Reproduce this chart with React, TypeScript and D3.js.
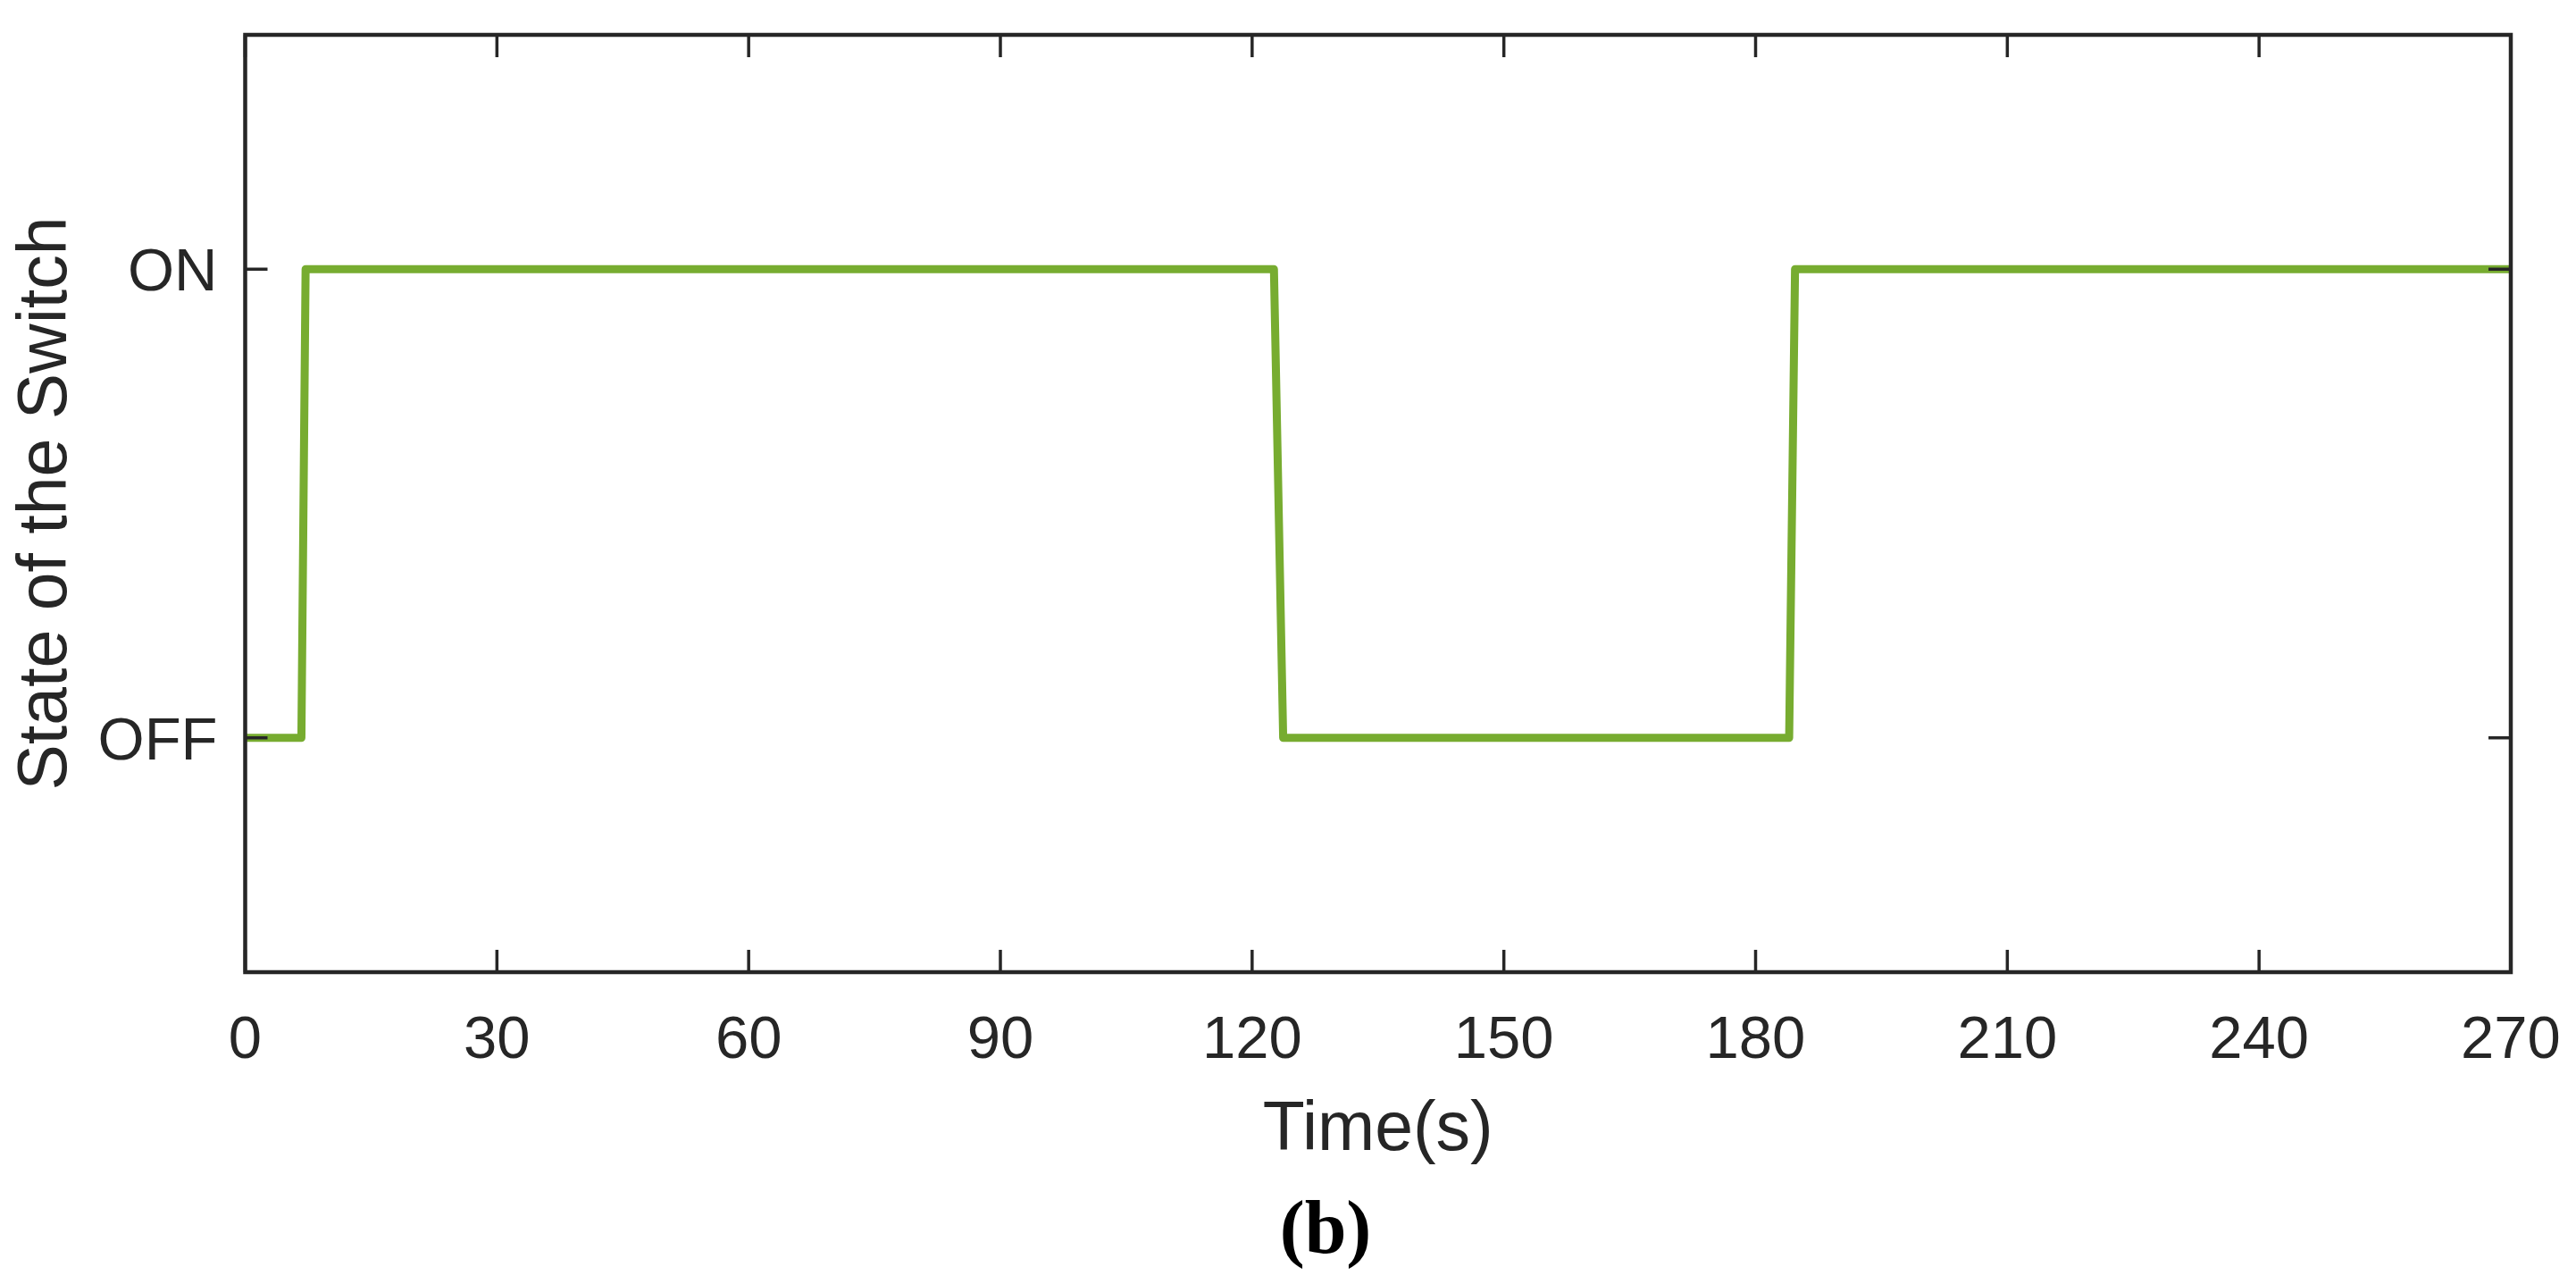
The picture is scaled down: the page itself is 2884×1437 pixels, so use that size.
import React from "react";
import * as d3 from "d3";

// ---- data ----
const timePoints: number[] = [0, 6.7, 7.2, 122.6, 123.7, 184.0, 184.7, 270];
const switchStates: number[] = [0, 0, 1, 1, 0, 0, 1, 1];
const xTicks: number[] = [0, 30, 60, 90, 120, 150, 180, 210, 240, 270];
const yTickValues: number[] = [0, 1];
const yTickLabels: string[] = ["OFF", "ON"];
const xLabel = "Time(s)";
const yLabel = "State of the Switch";
const caption = "(b)";

const W = 2884;
const H = 1437;
const M = { left: 274.5, right: 2811, top: 39, bottom: 1088 };
const AX = "#262626";
const LINE = "#77AC30";
const SANS = "'Liberation Sans', Arial, Helvetica, sans-serif";

export default function App() {
  const x = d3.scaleLinear().domain([0, 270]).range([M.left, M.right]);
  const y = d3.scaleLinear().domain([-0.5, 1.5]).range([M.bottom, M.top]);
  const pts = timePoints.map((t, i) => [t, switchStates[i]] as [number, number]);
  const path = d3
    .line<[number, number]>()
    .x((d) => x(d[0]))
    .y((d) => y(d[1]))(pts) as string;
  const tickLen = 25;
  const tickFont = 67;

  return (
    <svg
      width={W}
      height={H}
      viewBox={`0 0 ${W} ${H}`}
      style={{ position: "absolute", left: 0, top: 0, background: "#fff" }}
    >
      <rect x={0} y={0} width={W} height={H} fill="#fff" />
      {/* data line */}
      <path d={path} fill="none" stroke={LINE} strokeWidth={9} strokeLinejoin="round" />
      {/* x ticks (bottom & top, inward) */}
      {xTicks.map((t) => (
        <g key={"xt" + t}>
          <line x1={x(t)} x2={x(t)} y1={M.bottom} y2={M.bottom - tickLen} stroke={AX} strokeWidth={3.5} />
          <line x1={x(t)} x2={x(t)} y1={M.top} y2={M.top + tickLen} stroke={AX} strokeWidth={3.5} />
          <text
            x={x(t)}
            y={1184}
            textAnchor="middle"
            fontFamily={SANS}
            fontSize={tickFont}
            fill={AX}
          >
            {t}
          </text>
        </g>
      ))}
      {/* y ticks (left & right, inward) */}
      {yTickValues.map((v, i) => (
        <g key={"yt" + v}>
          <line x1={M.left} x2={M.left + tickLen} y1={y(v)} y2={y(v)} stroke={AX} strokeWidth={3.5} />
          <line x1={M.right} x2={M.right - tickLen} y1={y(v)} y2={y(v)} stroke={AX} strokeWidth={3.5} />
          <text
            x={M.left - 31}
            y={y(v) + 0.36 * tickFont}
            textAnchor="end"
            fontFamily={SANS}
            fontSize={tickFont}
            fill={AX}
          >
            {yTickLabels[i]}
          </text>
        </g>
      ))}
      {/* box */}
      <rect
        x={M.left}
        y={M.top}
        width={M.right - M.left}
        height={M.bottom - M.top}
        fill="none"
        stroke={AX}
        strokeWidth={4.5}
      />
      {/* axis labels */}
      <text
        x={(M.left + M.right) / 2}
        y={1287}
        textAnchor="middle"
        fontFamily={SANS}
        fontSize={77}
        fill={AX}
      >
        {xLabel}
      </text>
      <text
        transform={`translate(74, ${(M.top + M.bottom) / 2}) rotate(-90)`}
        textAnchor="middle"
        fontFamily={SANS}
        fontSize={77}
        fill={AX}
      >
        {yLabel}
      </text>
      {/* caption */}
      <text
        x={1484}
        y={1402}
        textAnchor="middle"
        fontFamily="'Liberation Serif', 'Times New Roman', serif"
        fontWeight="bold"
        fontSize={84}
        fill="#000"
      >
        {caption}
      </text>
    </svg>
  );
}
